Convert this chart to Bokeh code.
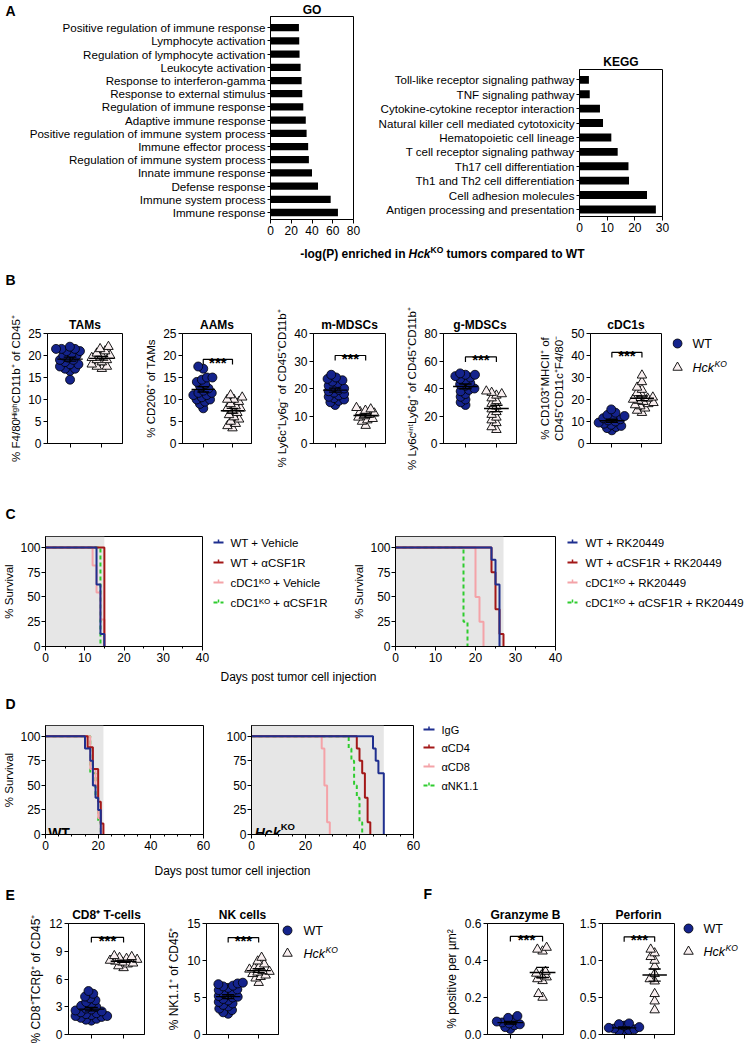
import numpy as np
from bokeh.plotting import figure
from bokeh.layouts import row, column
from bokeh.models import (Range1d, FixedTicker, Label, BoxAnnotation, NumeralTickFormatter, Plot)
from bokeh.core.properties import value
from bokeh.embed import file_html
from bokeh.resources import INLINE

FONT = "Liberation Sans"

# ---------------- data ----------------
go_terms = ["Positive regulation of immune response", "Lymphocyte activation",
            "Regulation of lymphocyte activation", "Leukocyte activation",
            "Response to interferon-gamma", "Response to external stimulus",
            "Regulation of immune response", "Adaptive immune response",
            "Positive regulation of immune system process", "Immune effector process",
            "Regulation of immune system process", "Innate immune response",
            "Defense response", "Immune system process", "Immune response"]
go_values = [27.4, 27.7, 28.0, 29.0, 30.0, 30.6, 31.6, 34.0, 34.8, 36.3, 37.0, 40.0, 45.8, 58.0, 65.0]
go_ticks = [0, 20, 40, 60, 80]

kegg_terms = ["Toll-like receptor signaling pathway", "TNF signaling pathway",
              "Cytokine-cytokine receptor interaction", "Natural killer cell mediated cytotoxicity",
              "Hematopoietic cell lineage", "T cell receptor signaling pathway",
              "Th17 cell differentiation", "Th1 and Th2 cell differentiation",
              "Cell adhesion molecules", "Antigen processing and presentation"]
kegg_values = [3.4, 3.7, 7.4, 8.5, 11.5, 13.8, 17.7, 17.9, 24.4, 27.6]
kegg_ticks = [0, 10, 20, 30]

tams_wt = [14.5, 16.5, 17, 17, 17.5, 18, 18, 18.5, 19, 19, 19.5, 20, 20, 20.5, 21, 21, 21.5, 21.5, 21.5, 22]
tams_ko = [17, 17.5, 17.5, 18, 18.5, 19, 19, 19.5, 20, 20, 20.5, 21, 21.5, 22]
aams_wt = [8, 9, 9.5, 10, 10, 10.5, 11, 11, 11.5, 11.5, 12, 12.5, 13, 13.5, 14, 14.5, 15, 15, 17, 17.5]
aams_ko = [3.5, 4, 4.5, 5, 5.5, 6, 6.5, 7, 7.5, 8, 8, 8.5, 9, 9.5, 10, 10, 10.5, 11]
mmdsc_wt = [14, 15, 15.5, 16, 16.5, 17, 17.5, 18, 18.5, 19, 19.5, 20, 20.5, 21, 22, 22.5, 23, 23.5, 24, 25]
mmdsc_ko = [6.5, 8, 8.5, 9, 9.5, 10, 10.5, 11, 11.5, 12, 12.5, 13]
gmdsc_wt = [28, 30, 32, 34, 36, 38, 39, 40, 42, 43, 44, 46, 47, 48, 49, 50, 50, 51]
gmdsc_ko = [10, 12, 15, 17, 19, 21, 23, 25, 27, 29, 31, 33, 35, 36, 37, 38]
cdc1_wt = [6, 7, 7.5, 8, 8.5, 9, 9.5, 10, 10.5, 11, 11.5, 12, 12.5, 13, 14, 15.5]
cdc1_ko = [14, 15, 16, 17, 17.5, 18, 18.5, 19, 19.5, 20, 20.5, 21, 22, 23, 24.5, 25.5, 28, 31]

cd8_wt = [1.5, 1.6, 1.7, 1.8, 1.9, 2.0, 2.0, 2.1, 2.2, 2.3, 2.4, 2.5, 2.6, 2.7, 2.8, 3.0, 3.1, 3.3, 3.5, 3.7, 3.9, 4.1, 4.4, 4.7]
cd8_ko = [7.2, 7.4, 7.6, 7.7, 7.8, 7.9, 8.0, 8.1, 8.2, 8.3, 8.4, 8.5]
nk_wt = [2.8, 3.0, 3.3, 3.5, 3.8, 4.0, 4.2, 4.4, 4.6, 4.8, 5.0, 5.1, 5.2, 5.4, 5.6, 5.8, 6.0, 6.1, 6.3, 6.5, 6.6, 6.8, 6.9, 7.0]
nk_ko = [7.0, 7.6, 7.8, 8.0, 8.2, 8.4, 8.5, 8.6, 8.8, 9.0, 9.2, 9.5, 9.9, 10.4]
gzmb_wt = [0.03, 0.04, 0.05, 0.055, 0.06, 0.065, 0.07, 0.08, 0.09, 0.10]
gzmb_ko = [0.20, 0.22, 0.29, 0.30, 0.31, 0.32, 0.33, 0.34, 0.45, 0.46, 0.47]
prf_wt = [0.03, 0.05, 0.06, 0.07, 0.08, 0.09, 0.10, 0.12, 0.14, 0.15]
prf_ko = [0.33, 0.45, 0.55, 0.72, 0.75, 0.82, 0.92, 1.00, 1.05, 1.10, 1.15]

c1_labels = ["WT + Vehicle", "WT + \u03b1CSF1R", "cDC1\u1d37\u1d3c + Vehicle", "cDC1\u1d37\u1d3c + \u03b1CSF1R"]
c1_days = [[0, 13, 14, 15], [0, 15], [0, 12, 13, 14, 15], [0, 14]]
c1_surv = [[100, 62.5, 12.5, 0], [100, 0], [100, 81.8, 54.5, 27.3, 0], [100, 0]]
c2_labels = ["WT + RK20449", "WT + \u03b1CSF1R + RK20449", "cDC1\u1d37\u1d3c + RK20449",
             "cDC1\u1d37\u1d3c + \u03b1CSF1R + RK20449"]
c2_days = [[0, 24, 25, 26], [0, 24, 25, 26, 27], [0, 20, 21, 22], [0, 17, 18]]
c2_surv = [[100, 87.5, 62.5, 0], [100, 75, 37.5, 12.5, 0], [100, 50, 25, 0], [100, 25, 0]]
d_labels = ["IgG", "\u03b1CD4", "\u03b1CD8", "\u03b1NK1.1"]
d1_days = [[0, 15, 17, 18, 19, 20, 21], [0, 16, 18, 20, 21, 22], [0, 17, 19, 20, 21], [0, 17, 19, 20, 21]]
d1_surv = [[100, 87.5, 75, 50, 37.5, 25, 0], [100, 88.9, 66.7, 33.3, 11.1, 0],
           [100, 66.7, 50, 16.7, 0], [100, 62.5, 37.5, 12.5, 0]]
d2_days = [[0, 45, 46, 47, 49], [0, 39, 40, 41, 42, 43, 44], [0, 26, 27, 28, 29], [0, 36, 37, 38, 39, 40, 41]]
d2_surv = [[100, 87.5, 75, 62.5, 0], [100, 87.5, 75, 62.5, 37.5, 12.5, 0],
           [100, 87.5, 50, 12.5, 0], [100, 87.5, 75, 50, 37.5, 12.5, 0]]
surv_yticks = [0, 25, 50, 75, 100]

# ---------------- styles ----------------
NAVY = "#14238c"
TRI = "#f9eff0"
CURVE_COLORS = ["#1f2f8f", "#a31818", "#f4a3a8", "#2ecc2e"]
CURVE_DASH = ["solid", "solid", "solid", "4 3"]
XR = (0.29, 2.65)
FA = {"frame_align": False} if "frame_align" in Plot.properties() else {}


def base_fig(W, H, g, xr, yr, tick_size="12px"):
    left, top, fw, fh = g
    p = figure(width=W, height=H, x_range=xr, y_range=yr, output_backend="svg",
               toolbar_location=None, min_border_left=left, min_border_top=top,
               min_border_right=W - left - fw, min_border_bottom=H - top - fh, **FA)
    p.grid.visible = False
    p.outline_line_color = "black"
    p.outline_line_width = 1
    p.outline_line_alpha = 1
    p.background_fill_color = "white"
    p.border_fill_color = "white"
    for ax in p.axis:
        ax.axis_line_color = "black"
        ax.axis_line_width = 1
        ax.major_tick_line_color = "black"
        ax.major_tick_out = 4
        ax.major_tick_in = 0
        ax.minor_tick_line_color = None
        ax.major_label_text_font = FONT
        ax.major_label_text_font_size = tick_size
        ax.major_label_text_color = "black"
        ax.major_label_standoff = 2
        ax.axis_label_text_font = FONT
        ax.axis_label_text_font_style = "normal"
        ax.axis_label_text_color = "black"
        ax.axis_label_standoff = 5
    return p


def set_title(p, text, size="12px", standoff=4):
    p.title.text = text
    p.title.align = "center"
    p.title.text_font = FONT
    p.title.text_font_size = size
    p.title.text_font_style = "bold"
    p.title.text_color = "black"
    p.title.standoff = standoff


def strip(W, H):
    p = figure(width=W, height=H, x_range=Range1d(0, W), y_range=Range1d(H, 0),
               output_backend="svg", toolbar_location=None, min_border=0,
               x_axis_location=None, y_axis_location=None, **FA)
    p.grid.visible = False
    p.outline_line_color = None
    p.background_fill_color = "white"
    p.border_fill_color = "white"
    return p


def stext(p, x, y, txt, size, style="normal", align="left"):
    p.text(x=[x], y=[y], text=[txt], text_font=value(FONT), text_font_size=size,
           text_font_style=style, text_align=align, text_baseline="middle", text_color="black")


def swarm(vals, ppy, ppx, d):
    pts = []
    offs = [0.0] * len(vals)
    for i in np.argsort(vals, kind="stable"):
        y = vals[i] * ppy
        cands = [0.0]
        for px, py in pts:
            dy = abs(py - y)
            if dy < d:
                dx = (d * d - dy * dy) ** 0.5
                cands += [px + dx, px - dx]
        best = 0.0
        for c in sorted(cands, key=lambda c: (round(abs(c), 6), c)):
            if all((c - px) ** 2 + (y - py) ** 2 >= d * d - 1e-6 for px, py in pts):
                best = c
                break
        pts.append((best, y))
        offs[i] = best / ppx
    return offs


def barplot(W, H, g, terms, vals, ticks, xmax, ypad):
    n = len(terms)
    p = base_fig(W, H, g, Range1d(0, xmax), Range1d(ypad[0], n - 1 + ypad[1]))
    idx = [n - 1 - k for k in range(n)]
    p.hbar(y=idx, right=vals, left=0, height=0.55, fill_color="black", line_color=None)
    p.xaxis.ticker = FixedTicker(ticks=ticks)
    p.yaxis.ticker = FixedTicker(ticks=list(range(n)))
    p.yaxis.major_label_overrides = {i: t for i, t in zip(idx, terms)}
    p.yaxis.major_label_text_font_size = "11.6px"
    p.yaxis.major_tick_out = 3
    return p


def dotplot(W, H, g, ymax, yticks, wt, ko, title, ylabel, bracket, fmt=None, lab_size="11.5px"):
    left, top, fw, fh = g
    p = base_fig(W, H, g, Range1d(*XR), Range1d(0, ymax))
    p.xaxis.ticker = FixedTicker(ticks=[], minor_ticks=[1, 2])
    p.xaxis.minor_tick_line_color = "black"
    p.xaxis.minor_tick_out = 4
    p.xaxis.minor_tick_in = 0
    p.yaxis.ticker = FixedTicker(ticks=yticks)
    if fmt:
        p.yaxis.formatter = NumeralTickFormatter(format=fmt)
    if ylabel:
        p.yaxis.axis_label = ylabel
        p.yaxis.axis_label_text_font_size = lab_size
        p.yaxis.axis_label_standoff = 3
    ppx = fw / (XR[1] - XR[0])
    ppy = fh / ymax
    wx = [1 + o for o in swarm(wt, ppy, ppx, 5.5)]
    kx = [2 + o for o in swarm(ko, ppy, ppx, 5.5)]
    p.scatter(wx, wt, marker="circle", size=9, fill_color=NAVY, line_color="black", line_width=0.8)
    p.scatter(kx, ko, marker="triangle", size=9.5, fill_color=TRI, line_color="black", line_width=0.9)
    for cx, v in ((1, wt), (2, ko)):
        m = float(np.mean(v))
        s = float(np.std(v, ddof=1) / np.sqrt(len(v)))
        p.segment(x0=[cx - 0.4, cx, cx - 0.2, cx - 0.2], y0=[m, m - s, m - s, m + s],
                  x1=[cx + 0.4, cx, cx + 0.2, cx + 0.2], y1=[m, m + s, m - s, m + s],
                  line_color="black", line_width=1.4)
    if bracket is not None:
        dd = 5 / ppy
        p.line([1, 1, 2, 2], [bracket - dd, bracket, bracket, bracket - dd], line_color="black", line_width=1.2)
        p.text(x=[1.5], y=[bracket], text=["***"], text_font=value(FONT), text_font_size="15px",
               text_font_style="bold", text_align="center", text_baseline="alphabetic",
               y_offset=3, text_color="black")
    set_title(p, title)
    return p


def dot_legend_strip(W, H, mx, tx, y_wt, y_ko):
    s = strip(W, H)
    s.scatter([mx], [y_wt], marker="circle", size=9, fill_color=NAVY, line_color="black", line_width=0.8)
    s.scatter([mx], [y_ko], marker="triangle", size=9.5, fill_color=TRI, line_color="black", line_width=0.9)
    stext(s, tx, y_wt, "WT", "12.5px")
    stext(s, tx, y_ko, "Hck", "12.5px", "italic")
    stext(s, tx + 22, y_ko - 4, "KO", "8.5px", "italic")
    return s


def line_legend_strip(W, H, x0, x1, tx, ys, labels, size):
    s = strip(W, H)
    for k in range(len(labels)):
        s.line([x0, x1], [ys[k], ys[k]], line_color=CURVE_COLORS[k], line_width=2,
               line_dash=CURVE_DASH[k])
        xm = (x0 + x1) / 2
        s.line([xm, xm], [ys[k], ys[k] - 3], line_color=CURVE_COLORS[k], line_width=1.5)
        stext(s, tx, ys[k], labels[k], size)
    return s


def survival(W, H, g, xmax, xticks, xminor, days, surv, ylabel):
    p = base_fig(W, H, g, Range1d(0, xmax), Range1d(0, 111))
    p.xaxis.ticker = FixedTicker(ticks=xticks, minor_ticks=xminor)
    p.xaxis.minor_tick_line_color = "black"
    p.xaxis.minor_tick_out = 2
    p.xaxis.minor_tick_in = 0
    p.yaxis.ticker = FixedTicker(ticks=surv_yticks)
    p.yaxis.major_label_standoff = 1
    if ylabel:
        p.yaxis.axis_label = "% Survival"
        p.yaxis.axis_label_text_font_size = "11.5px"
        p.yaxis.axis_label_standoff = 2
    shade_end = max(max(d) for d in days)
    p.add_layout(BoxAnnotation(left=0, right=shade_end, fill_color="#e6e6e6", fill_alpha=1,
                               line_color=None, level="underlay"))
    for k in reversed(range(len(days))):
        p.step(days[k], surv[k], mode="after", line_color=CURVE_COLORS[k],
               line_width=2, line_dash=CURVE_DASH[k])
    return p


# ---------------- row A ----------------
sA_left = strip(20, 241)
stext(sA_left, 5, 10, "A", "14px", "bold")
go_p = barplot(355, 241, (250, 16, 83, 203), go_terms, go_values, go_ticks, 80, (-0.53, 0.85))
set_title(go_p, "GO", "12px", 0)
kegg_p = barplot(372, 241, (204, 69, 83, 147), kegg_terms, kegg_values, kegg_ticks, 30, (-0.49, 0.72))
set_title(kegg_p, "KEGG", "12px", 2)
sX = strip(747, 22)
stext(sX, 405, 12, "-log(P) enriched in", "12px", "bold", "right")
stext(sX, 408, 12, "Hck", "12px", "bold italic")
stext(sX, 430, 8, "KO", "8.5px", "bold")
stext(sX, 446, 12, "tumors compared to WT", "12px", "bold")
rowA = column(row(sA_left, go_p, kegg_p), sX)

# ---------------- row B ----------------
sB_top = strip(747, 25)
stext(sB_top, 5, 16, "B", "14px", "bold")
b1 = dotplot(142, 212, (47, 45, 75, 110), 25, [0, 5, 10, 15, 20, 25], tams_wt, tams_ko, "TAMs",
             "% F4/80\u1d34\u2071\u1d4d\u02b0CD11b\u207a of CD45\u207a", None)
b2 = dotplot(131, 212, (40, 45, 69, 110), 25, [0, 5, 10, 15, 20, 25], aams_wt, aams_ko, "AAMs",
             "% CD206\u207a of TAMs", 19.1)
b3 = dotplot(130, 212, (40, 45, 72, 110), 40, [0, 10, 20, 30, 40], mmdsc_wt, mmdsc_ko, "m-MDSCs",
             "% Ly6c\u207aLy6g\u207b of CD45\u207aCD11b\u207a", 32)
b4 = dotplot(132, 212, (40, 45, 73, 110), 80, [0, 20, 40, 60, 80], gmdsc_wt, gmdsc_ko, "g-MDSCs",
             "% Ly6c\u2071\u207f\u1d57Ly6g\u207a of CD45\u207aCD11b\u207a", 63)
b5 = dotplot(137, 212, (52, 45, 74, 110), 50, [0, 10, 20, 30, 40, 50], cdc1_wt, cdc1_ko, "cDC1s",
             "% CD103\u207aMHCII\u207a of\nCD45\u207aCD11c\u207aF4/80\u207b", 41.4)
legB = dot_legend_strip(75, 212, 5, 20, 55, 79)
rowB = column(sB_top, row(b1, b2, b3, b4, b5, legB))

# ---------------- row C ----------------
sC_top = strip(747, 22)
stext(sC_top, 5, 13, "C", "14px", "bold")
cminor = [5, 15, 25, 35]
c1 = survival(210, 144, (37, 14, 165, 110), 40, [0, 10, 20, 30, 40], cminor, c1_days, c1_surv, True)
legC1 = line_legend_strip(140, 144, 3, 13, 20, [20, 40, 60, 80], c1_labels, "11.5px")
c2 = survival(213, 144, (40, 14, 165, 110), 40, [0, 10, 20, 30, 40], cminor, c2_days, c2_surv, True)
legC2 = line_legend_strip(184, 144, 4, 14, 22, [20, 40, 60, 80], c2_labels, "11.5px")
sC_bot = strip(747, 24)
stext(sC_bot, 298, 10, "Days post tumor cell injection", "12px", "normal", "center")
rowC = column(sC_top, row(c1, legC1, c2, legC2), sC_bot)

# ---------------- row D ----------------
sD_top = strip(747, 22)
stext(sD_top, 5, 13, "D", "14px", "bold")
dminor = [5, 10, 15, 25, 30, 35, 45, 50, 55]
d1 = survival(223, 144, (41, 13, 162, 109), 60, [0, 20, 40, 60], dminor, d1_days, d1_surv, True)
d1.add_layout(Label(x=1, y=2, text="WT", text_font=FONT, text_font_size="14px",
                    text_font_style="bold", text_baseline="alphabetic", text_color="black"))
d2 = survival(198, 144, (25, 13, 165, 109), 60, [0, 20, 40, 60], dminor, d2_days, d2_surv, False)
d2.add_layout(Label(x=1.2, y=2, text="Hck", text_font=FONT, text_font_size="14px",
                    text_font_style="bold italic", text_baseline="alphabetic", text_color="black"))
d2.add_layout(Label(x=1.2, y=2, x_offset=26, y_offset=6, text="KO", text_font=FONT,
                    text_font_size="9.5px", text_font_style="bold", text_baseline="alphabetic",
                    text_color="black"))
legD = line_legend_strip(326, 144, 2, 13, 20, [17, 35, 54, 73], d_labels, "11px")
sD_bot = strip(747, 24)
stext(sD_bot, 232, 14, "Days post tumor cell injection", "12px", "normal", "center")
rowD = column(sD_top, row(d1, d2, legD), sD_bot)

# ---------------- row E / F ----------------
sE_top = strip(747, 23)
stext(sE_top, 5, 14, "E", "14px", "bold")
stext(sE_top, 423, 13, "F", "14px", "bold")
e1 = dotplot(164, 145, (68, 20, 76, 111), 12, [0, 3, 6, 9, 12], cd8_wt, cd8_ko, "CD8\u207a T-cells",
             "% CD8\u207aTCR\u03b2\u207a of CD45\u207a", 10.5, None, "12px")
e2 = dotplot(116, 145, (38, 20, 76, 111), 15, [0, 5, 10, 15], nk_wt, nk_ko, "NK cells",
             "% NK1.1\u207a of CD45\u207a", 13.1, None, "12px")
legE = dot_legend_strip(140, 145, 7, 23, 27, 50)
f1 = dotplot(156, 145, (67, 20, 76, 111), 0.6, [0, 0.2, 0.4, 0.6], gzmb_wt, gzmb_ko, "Granzyme B",
             "% positive per \u00b5m\u00b2", 0.53, "0.0", "12px")
f2 = dotplot(106, 145, (24, 20, 74, 111), 1.5, [0, 0.5, 1.0, 1.5], prf_wt, prf_ko, "Perforin",
             None, 1.32, "0.0")
legF = dot_legend_strip(65, 145, 6, 21, 25, 48)
rowE = column(sE_top, row(e1, e2, legE, f1, f2, legF))

layout = column(rowA, rowB, rowC, rowD, rowE)
open("out.html", "w").write(file_html(layout, INLINE))
